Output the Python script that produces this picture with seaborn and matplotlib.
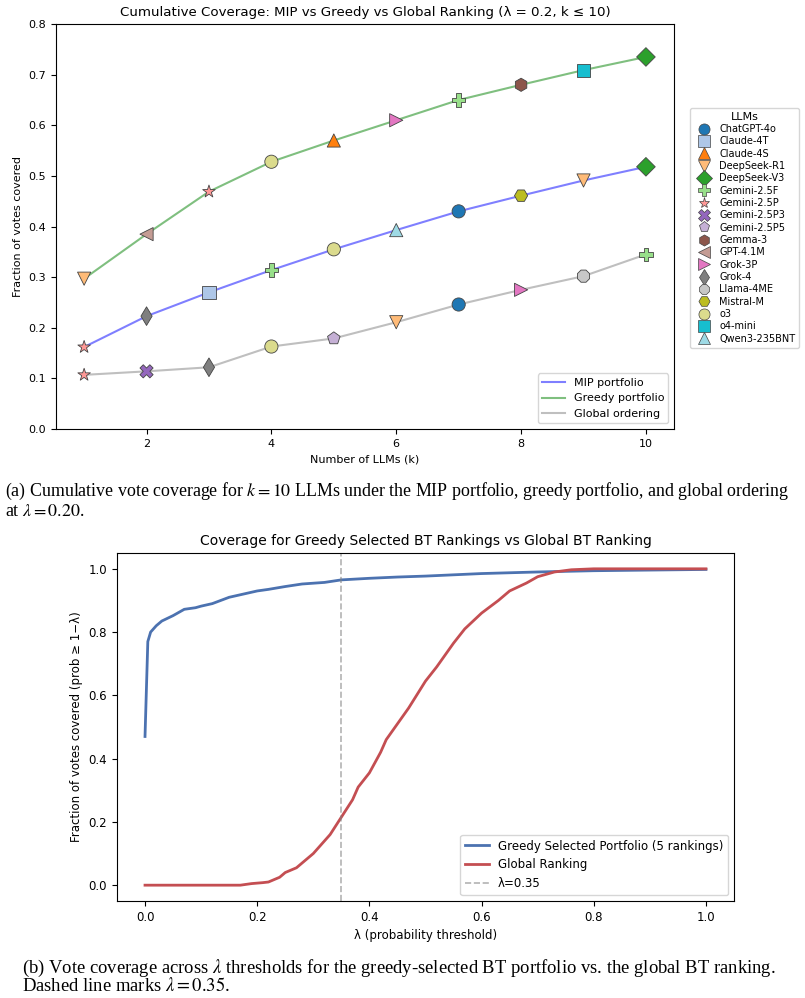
import numpy as np
import pandas as pd
import matplotlib
matplotlib.use('Agg')
import matplotlib.pyplot as plt
import seaborn as sns
from matplotlib.lines import Line2D

plt.rcParams['mathtext.fontset'] = 'stix'
plt.rcParams['font.family'] = ['DejaVu Sans']

# --- top chart data ---
models = ['ChatGPT-4o', 'Claude-4T', 'Claude-4S', 'DeepSeek-R1', 'DeepSeek-V3',
          'Gemini-2.5F', 'Gemini-2.5P', 'Gemini-2.5P3', 'Gemini-2.5P5', 'Gemma-3',
          'GPT-4.1M', 'Grok-3P', 'Grok-4', 'Llama-4ME', 'Mistral-M', 'o3',
          'o4-mini', 'Qwen3-235BNT']
model_colors = ['#1f77b4', '#aec7e8', '#ff7f0e', '#ffbb78', '#2ca02c',
                '#98df8a', '#ff9896', '#9467bd', '#c5b0d5', '#8c564b',
                '#c49c94', '#e377c2', '#7f7f7f', '#c7c7c7', '#bcbd22',
                '#dbdb8d', '#17becf', '#9edae5']
model_markers = ['o', 's', '^', 'v', 'D', 'P', '*', 'X', 'p', 'h',
                 '<', '>', 'd', '8', 'H', 'o', 's', '^']

k = list(range(1, 11))
mip_models = ['Gemini-2.5P', 'Grok-4', 'Claude-4T', 'Gemini-2.5F', 'o3',
              'Qwen3-235BNT', 'ChatGPT-4o', 'Mistral-M', 'DeepSeek-R1', 'DeepSeek-V3']
mip_cov = [0.162, 0.223, 0.270, 0.314, 0.355, 0.393, 0.430, 0.461, 0.491, 0.518]
greedy_models = ['DeepSeek-R1', 'GPT-4.1M', 'Gemini-2.5P', 'o3', 'Claude-4S',
                 'Grok-3P', 'Gemini-2.5F', 'Gemma-3', 'o4-mini', 'DeepSeek-V3']
greedy_cov = [0.297, 0.385, 0.469, 0.528, 0.570, 0.610, 0.650, 0.680, 0.709, 0.735]
global_models = ['Gemini-2.5P', 'Gemini-2.5P3', 'Grok-4', 'o3', 'Gemini-2.5P5',
                 'DeepSeek-R1', 'ChatGPT-4o', 'Grok-3P', 'Llama-4ME', 'Gemini-2.5F']
global_cov = [0.107, 0.114, 0.122, 0.163, 0.179, 0.211, 0.246, 0.275, 0.302, 0.345]

# --- bottom chart data ---
greedy_lam = [0.0, 0.005, 0.01, 0.02, 0.03, 0.05, 0.07, 0.09, 0.10, 0.12, 0.15,
              0.18, 0.20, 0.22, 0.25, 0.28, 0.32, 0.35, 0.40, 0.45, 0.50, 0.55,
              0.60, 0.70, 0.80, 0.90, 1.0]
greedy_frac = [0.47, 0.77, 0.80, 0.82, 0.835, 0.852, 0.872, 0.877, 0.882, 0.890,
               0.910, 0.922, 0.930, 0.935, 0.944, 0.952, 0.957, 0.965, 0.970,
               0.974, 0.977, 0.981, 0.985, 0.990, 0.994, 0.996, 0.998]
global_lam = [0.0, 0.10, 0.17, 0.19, 0.21, 0.22, 0.24, 0.25, 0.27, 0.29, 0.30,
              0.32, 0.33, 0.35, 0.37, 0.38, 0.40, 0.42, 0.43, 0.45, 0.47, 0.50,
              0.52, 0.55, 0.57, 0.60, 0.63, 0.65, 0.68, 0.70, 0.73, 0.76, 0.80,
              0.90, 1.0]
global_frac = [0.0, 0.0, 0.0, 0.005, 0.008, 0.01, 0.025, 0.04, 0.055, 0.085, 0.10,
               0.14, 0.16, 0.215, 0.27, 0.31, 0.355, 0.42, 0.46, 0.51, 0.56, 0.645,
               0.69, 0.765, 0.81, 0.86, 0.90, 0.93, 0.955, 0.975, 0.99, 0.997, 1.0,
               1.0, 1.0]

palette = dict(zip(models, model_colors))
markers = dict(zip(models, model_markers))

fig = plt.figure(figsize=(8.05, 9.98), dpi=100)

# ---------------- top chart ----------------
ax1 = fig.add_axes([0.0696, 0.5701, 0.7677, 0.4058])
sns.lineplot(x=k, y=mip_cov, color='blue', alpha=0.5, lw=1.5, label='MIP portfolio', ax=ax1)
sns.lineplot(x=k, y=greedy_cov, color='green', alpha=0.5, lw=1.5, label='Greedy portfolio', ax=ax1)
sns.lineplot(x=k, y=global_cov, color='gray', alpha=0.5, lw=1.5, label='Global ordering', ax=ax1)

pts = pd.DataFrame({
    'k': k * 3,
    'cov': mip_cov + greedy_cov + global_cov,
    'model': mip_models + greedy_models + global_models,
})
sns.scatterplot(data=pts, x='k', y='cov', hue='model', style='model',
                hue_order=models, style_order=models, palette=palette,
                markers=markers, s=90, edgecolor='#444444', linewidth=0.6,
                legend=False, zorder=3, ax=ax1)

ax1.set_ylim(0, 0.8)
ax1.set_title('Cumulative Coverage: MIP vs Greedy vs Global Ranking (λ = 0.2, k ≤ 10)', fontsize=9.6)
ax1.set_xlabel('Number of LLMs (k)', fontsize=8)
ax1.set_ylabel('Fraction of votes covered', fontsize=8)
ax1.tick_params(labelsize=8)
leg1 = ax1.legend(loc='lower right', fontsize=8)

handles = [Line2D([], [], ls='none', marker=markers[m], color=palette[m],
                  markeredgecolor='#444444', markeredgewidth=0.5, markersize=8)
           for m in models]
leg2 = ax1.legend(handles, models, title='LLMs', loc='center left',
                  bbox_to_anchor=(1.026, 0.497), borderaxespad=0,
                  fontsize=7, title_fontsize=8, labelspacing=0.24,
                  handletextpad=0.6)
ax1.add_artist(leg1)

# ---------------- bottom chart ----------------
ax2 = fig.add_axes([0.1453, 0.0972, 0.7665, 0.3487])
sns.lineplot(x=greedy_lam, y=greedy_frac, color='#4c72b0', lw=2,
             label='Greedy Selected Portfolio (5 rankings)', ax=ax2)
sns.lineplot(x=global_lam, y=global_frac, color='#c44e52', lw=2,
             label='Global Ranking', ax=ax2)
ax2.axvline(0.35, color='gray', ls='--', alpha=0.6, lw=1.2, label='λ=0.35')
ax2.set_title('Coverage for Greedy Selected BT Rankings vs Global BT Ranking', fontsize=10)
ax2.set_xlabel('λ (probability threshold)', fontsize=8.5)
ax2.set_ylabel('Fraction of votes covered (prob ≥ 1−λ)', fontsize=8.5)
ax2.tick_params(labelsize=8.5)
ax2.legend(loc='lower right', fontsize=8.5)

# ---------------- captions ----------------
cap = dict(family='Liberation Serif', va='center', ha='left')
fig.text(0.006, 1 - 491 / 998,
         r'(a) Cumulative vote coverage for $k = 10$ LLMs under the MIP portfolio, greedy portfolio, and global ordering',
         fontsize=12.85, **cap)
fig.text(0.006, 1 - 511 / 998, r'at $\lambda = 0.20$.', fontsize=12.85, **cap)
fig.text(0.027, 1 - 968 / 998,
         r'(b) Vote coverage across $\lambda$ thresholds for the greedy-selected BT portfolio vs. the global BT ranking.',
         fontsize=13.4, **cap)
fig.text(0.027, 1 - 986 / 998, r'Dashed line marks $\lambda = 0.35$.', fontsize=13.4, **cap)

fig.savefig('out.png', dpi=100)
